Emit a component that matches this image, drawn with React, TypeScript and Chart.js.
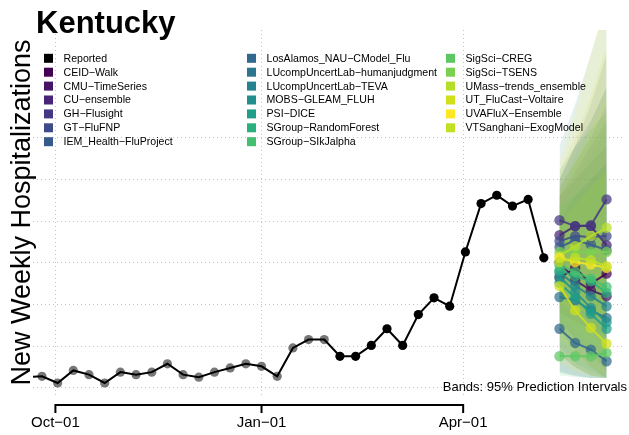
import React, { useEffect, useRef } from 'react';
import { Chart, registerables } from 'chart.js';

Chart.register(...registerables);

const FONT = "'Liberation Sans', Arial, Helvetica, sans-serif";

const STATE_NAME = 'Kentucky';
const Y_AXIS_TITLE = 'New Weekly Hospitalizations';
const BANDS_NOTE = 'Bands: 95% Prediction Intervals';

const ORIGIN_DATE = '2021-10-01';
const X_MIN_DAY = -10;
const X_MAX_DAY = 253.7;
const Y_MIN = -8.4;
const Y_MAX = 429;

const X_TICK_DATES = ['2021-10-01', '2022-01-01', '2022-04-01'];
const X_TICK_LABELS = ['Oct−01', 'Jan−01', 'Apr−01'];
const Y_GRID_VALUES = [0, 50, 100, 150, 200, 250, 300];

const REPORTED_DATES = [
  '2021-09-18', '2021-09-25', '2021-10-02', '2021-10-09', '2021-10-16', '2021-10-23', '2021-10-30',
  '2021-11-06', '2021-11-13', '2021-11-20', '2021-11-27', '2021-12-04', '2021-12-11', '2021-12-18',
  '2021-12-25', '2022-01-01', '2022-01-08', '2022-01-15', '2022-01-22', '2022-01-29', '2022-02-05',
  '2022-02-12', '2022-02-19', '2022-02-26', '2022-03-05', '2022-03-12', '2022-03-19', '2022-03-26',
  '2022-04-02', '2022-04-09', '2022-04-16', '2022-04-23', '2022-04-30', '2022-05-07',
];
const REPORTED_VALUES = [
  13, 14, 6, 21, 16, 6, 19,
  16, 19, 29, 16, 13, 19, 24,
  29, 26, 14, 48, 58, 58, 38,
  38, 51, 71, 51, 88, 108, 98,
  163, 221, 231, 218, 226, 156,
];
const LAST_GRAY_DATE = '2022-01-29';

const FORECAST_DATES = ['2022-05-14', '2022-05-21', '2022-05-28', '2022-06-04'];

const MODEL_NAMES = [
  'CEID−Walk', 'CMU−TimeSeries', 'CU−ensemble', 'GH−Flusight', 'GT−FluFNP', 'IEM_Health−FluProject',
  'LosAlamos_NAU−CModel_Flu', 'LUcompUncertLab−humanjudgment', 'LUcompUncertLab−TEVA', 'MOBS−GLEAM_FLUH',
  'PSI−DICE', 'SGroup−RandomForest', 'SGroup−SIkJalpha',
  'SigSci−CREG', 'SigSci−TSENS', 'UMass−trends_ensemble', 'UT_FluCast−Voltaire', 'UVAFluX−Ensemble',
  'VTSanghani−ExogModel',
];
const MODEL_COLORS = [
  '#440154', '#481467', '#482576', '#453781', '#3E4A89', '#375A8C',
  '#31688E', '#2B758E', '#26828E', '#21908D', '#1F9E89', '#2AB07F', '#44BF70',
  '#5DC863', '#7AD151', '#B5DE2B', '#D0E11C', '#FDE725', '#C2DF23',
];
const FORECAST_POINT = [
  [132, 144, 125, 137],
  [151, 129, 117, 110],
  [183, 194, 194, 171],
  [201, 194, 195, 226],
  [176, 182, 181, 182],
  [169, 177, 172, 165],
  [71, 54, 46, 32],
  [109, 105, 93, 84],
  [139, 123, 110, 98],
  [134, 115, 96, 79],
  [126, 108, 89, 71],
  [141, 134, 128, 114],
  [147, 139, 131, 121],
  [38, 38, 38, 42],
  [163, 163, 163, 163],
  [158, 170, 182, 192],
  [122, 93, 72, 53],
  [156, 151, 148, 144],
  [151, 156, 153, 146],
];
const FORECAST_LOWER = [
  [90, 80, 70, 60],
  [70, 45, 25, 12],
  [110, 95, 80, 60],
  [150, 130, 110, 100],
  [120, 110, 100, 90],
  [80, 60, 40, 20],
  [20, 15, 12, 12],
  [40, 25, 15, 12],
  [18, 14, 12, 12],
  [40, 25, 15, 12],
  [50, 30, 20, 12],
  [80, 60, 40, 25],
  [70, 55, 40, 30],
  [15, 13, 12, 12],
  [90, 70, 55, 40],
  [100, 95, 90, 85],
  [40, 25, 15, 12],
  [30, 20, 15, 12],
  [60, 40, 25, 15],
];
const FORECAST_UPPER = [
  [200, 230, 250, 270],
  [230, 260, 290, 320],
  [250, 290, 320, 360],
  [240, 270, 300, 340],
  [230, 250, 270, 290],
  [250, 290, 340, 400],
  [150, 140, 130, 120],
  [200, 220, 240, 260],
  [290, 340, 400, 460],
  [260, 290, 310, 330],
  [220, 230, 240, 250],
  [210, 230, 250, 270],
  [220, 250, 280, 310],
  [240, 280, 320, 360],
  [240, 270, 300, 330],
  [230, 270, 310, 350],
  [200, 220, 240, 260],
  [270, 330, 400, 470],
  [260, 300, 350, 410],
];

function dayOf(s: string): number {
  const [y, m, d] = s.split('-').map(Number);
  const [oy, om, od] = ORIGIN_DATE.split('-').map(Number);
  return (Date.UTC(y, m - 1, d) - Date.UTC(oy, om - 1, od)) / 86400000;
}

function rgba(hex: string, a: number): string {
  const n = parseInt(hex.slice(1), 16);
  return `rgba(${(n >> 16) & 255},${(n >> 8) & 255},${n & 255},${a})`;
}

const decorPlugin = {
  id: 'decor',
  afterDraw(chart: any) {
    const ctx = chart.ctx as CanvasRenderingContext2D;
    const xs = chart.scales.x;
    const area = chart.chartArea;
    ctx.save();
    ctx.fillStyle = '#000';
    ctx.textAlign = 'left';
    ctx.textBaseline = 'alphabetic';
    ctx.font = `bold 31px ${FONT}`;
    ctx.fillText(STATE_NAME, 36, 33);

    // R-style x axis line with tick marks
    const px = xs.ticks.map((t: any) => xs.getPixelForValue(t.value));
    const axisY = area.bottom + 10;
    ctx.strokeStyle = '#000';
    ctx.lineWidth = 2;
    ctx.lineCap = 'square';
    ctx.beginPath();
    ctx.moveTo(px[0], axisY);
    ctx.lineTo(px[px.length - 1], axisY);
    px.forEach((p: number) => {
      ctx.moveTo(p, axisY);
      ctx.lineTo(p, axisY + 7);
    });
    ctx.stroke();

    // legend
    const entries = [{ name: 'Reported', color: '#000000' }].concat(
      MODEL_NAMES.map((n, i) => ({ name: n, color: MODEL_COLORS[i] }))
    );
    const colX = [44, 247, 446];
    const perCol = [7, 7, 6];
    ctx.font = `10.6px ${FONT}`;
    ctx.textBaseline = 'middle';
    let k = 0;
    for (let c = 0; c < 3; c++) {
      for (let r = 0; r < perCol[c]; r++) {
        const e = entries[k++];
        if (!e) break;
        const cy = 58.3 + r * 13.9;
        ctx.fillStyle = e.color;
        ctx.fillRect(colX[c], cy - 4.5, 9, 9);
        ctx.fillStyle = '#000';
        ctx.fillText(e.name, colX[c] + 19.5, cy + 0.5);
      }
    }

    ctx.font = `13px ${FONT}`;
    ctx.textAlign = 'right';
    ctx.textBaseline = 'alphabetic';
    ctx.fillStyle = '#000';
    ctx.fillText(BANDS_NOTE, 627, area.bottom - 4);
    ctx.restore();
  },
};

export default function App() {
  const ref = useRef<HTMLCanvasElement | null>(null);

  useEffect(() => {
    if (!ref.current) return;
    Chart.defaults.font.family = FONT;

    const reported = REPORTED_DATES.map((d, i) => ({ x: dayOf(d), y: REPORTED_VALUES[i] }));
    const grayLimit = dayOf(LAST_GRAY_DATE);
    const reportedColors = REPORTED_DATES.map((d) => (dayOf(d) <= grayLimit ? 'rgba(95,95,95,0.85)' : '#000000'));
    const fx = FORECAST_DATES.map(dayOf);
    const n = MODEL_NAMES.length;

    const datasets: any[] = [];
    datasets.push({
      label: 'Reported line',
      data: reported,
      borderColor: '#000',
      borderWidth: 2,
      pointRadius: 0,
      fill: false,
      clip: 0,
      order: 0,
    });
    datasets.push({
      label: 'Reported',
      data: reported,
      showLine: false,
      pointRadius: 4.6,
      pointBorderWidth: 0,
      pointBackgroundColor: reportedColors,
      fill: false,
      clip: 0,
      order: 1,
    });
    MODEL_NAMES.forEach((name, m) => {
      datasets.push({
        label: name,
        data: fx.map((x, j) => ({ x, y: FORECAST_POINT[m][j] })),
        borderColor: rgba(MODEL_COLORS[m], 0.85),
        borderWidth: 2,
        pointRadius: 5.2,
        pointBorderWidth: 0,
        pointBackgroundColor: rgba(MODEL_COLORS[m], 0.72),
        fill: false,
        clip: 0,
        order: 2 + (n - m),
      });
    });
    MODEL_NAMES.forEach((name, m) => {
      datasets.push({
        label: name + ' upper',
        data: fx.map((x, j) => ({ x, y: FORECAST_UPPER[m][j] })),
        borderWidth: 0,
        borderColor: 'rgba(0,0,0,0)',
        pointRadius: 0,
        backgroundColor: rgba(MODEL_COLORS[m], 0.12),
        fill: '+1',
        clip: 0,
        order: 100 + (n - m),
      });
      datasets.push({
        label: name + ' lower',
        data: fx.map((x, j) => ({ x, y: FORECAST_LOWER[m][j] })),
        borderWidth: 0,
        borderColor: 'rgba(0,0,0,0)',
        pointRadius: 0,
        fill: false,
        clip: 0,
        order: 100 + (n - m),
      });
    });

    const gridColor = '#c2c2c2';
    const chart = new Chart(ref.current, {
      type: 'line',
      data: { datasets },
      options: {
        animation: false,
        responsive: false,
        devicePixelRatio: 1,
        events: [],
        layout: { padding: { left: 9, right: 0, top: 30, bottom: 0 } },
        plugins: {
          legend: { display: false },
          title: { display: false },
          tooltip: { enabled: false },
        },
        elements: { line: { tension: 0 } },
        scales: {
          x: {
            type: 'linear',
            min: X_MIN_DAY,
            max: X_MAX_DAY,
            afterBuildTicks: (s: any) => {
              s.ticks = X_TICK_DATES.map((d) => ({ value: dayOf(d) }));
            },
            afterFit: (s: any) => {
              s.height = 40;
            },
            ticks: {
              autoSkip: false,
              maxRotation: 0,
              padding: 19,
              color: '#000',
              font: { size: 15, family: FONT },
              callback: (_v: any, i: number) => X_TICK_LABELS[i],
            },
            grid: { color: gridColor, lineWidth: 1, drawTicks: false },
            border: { display: false, dash: [1, 3] },
          },
          y: {
            type: 'linear',
            min: Y_MIN,
            max: Y_MAX,
            afterBuildTicks: (s: any) => {
              s.ticks = Y_GRID_VALUES.map((v) => ({ value: v }));
            },
            afterFit: (s: any) => {
              s.width = 24;
            },
            ticks: { display: false },
            grid: { color: gridColor, lineWidth: 1, drawTicks: false },
            border: { display: false, dash: [1, 3] },
            title: {
              display: true,
              text: Y_AXIS_TITLE,
              color: '#000',
              font: { size: 27, family: FONT, lineHeight: 1 },
              padding: { top: 0, bottom: -3 },
            },
          },
        },
      },
      plugins: [decorPlugin],
    });
    return () => chart.destroy();
  }, []);

  return (
    <div style={{ position: 'absolute', left: 0, top: 0, width: 629, height: 435, background: '#fff' }}>
      <canvas ref={ref} width={629} height={435} style={{ display: 'block', width: 629, height: 435 }} />
    </div>
  );
}
